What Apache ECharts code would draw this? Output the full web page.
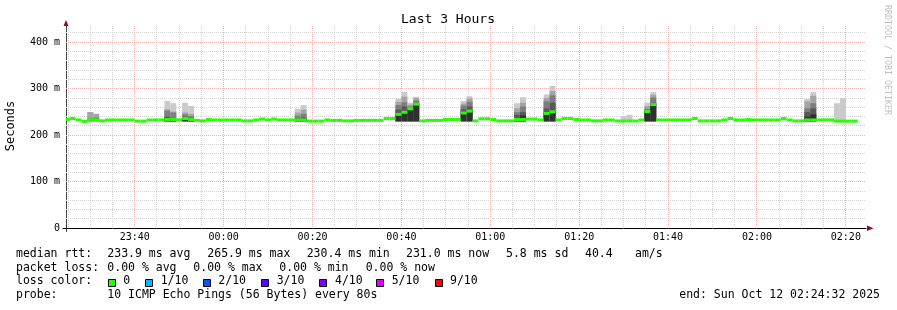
<!DOCTYPE html>
<html><head><meta charset="utf-8">
<script src="https://cdn.jsdelivr.net/npm/echarts@6/dist/echarts.min.js"></script>
<style>html,body{margin:0;padding:0;background:#fff}#c{width:897px;height:310px}</style>
</head><body><div id="c"></div>
<script>
// ---------- data ----------
const titleText = 'Last 3 Hours';
const yAxisName = 'Seconds';
const xTickLabels = ['23:40','00:00','00:20','00:40','01:00','01:20','01:40','02:00','02:20'];
const yTickValues = [0, 100, 200, 300, 400];           // ms
const rangeStart = '23:24:32';
const rangeEnd = '02:24:32';
const firstSampleEnd = '23:25:20';
const stepSec = 80;
// median rtt per 80 s sample (ms)
const median = [
  234,236,233,230,233,233,231,233,233,233,
  233,233,230.5,230.5,233,233,233,234,234,233,
  236,234,232,231,234,233,233,233,233,233,
  231,231,233,235,233,235,233,233,233,233,
  233,230.5,230.5,230.5,233,232,232,231,231,232,
  232,232,232,232,236,236,245,249.5,257,267,
  231,232,232,232,234,234,234,248,252,231,
  235.5,235.5,234,231,231,231,234,234,235,235,
  233,247,250.5,233,236,236,234,233,233,231,
  231,233,233,230.8,230.8,230.8,230.8,233,251,266,
  233,233,233,233,233,233,236,231,231,231,
  231,233,236,233,233,234,233,233,233,233,
  233,236,233,231,231,233,233,233,233,233,
  230.5,230.5,230.5,230.5
];
// samples with visible smoke (sample index) and their ping levels (ms)
const smokeIdx = [4,5,17,18,19,20,21,39,40,56,57,58,59,67,68,76,77,81,82,94,95,98,99,125,126,128,129,130,131];
const smokeLow = 230;
const smokeP10 = [250,246,274,269,237,270,263,257,265,279,293,270,283,274,284,269,282,288,306,241,244,270,293,278,293,236,236,269,280];
const smokeP9  = [250,246,256,251,230,249,246,249,255,272,283,266,280,268,279,258,270,280,295,230,230,263,287,273,285,230,230,230,230];
const smokeP8  = [236,238,253,249,230,245,241,242,246,265,271,262,275,264,272,250,262,273,286,230,230,257,281,258,269,230,230,230,230];
const smokeP7  = [230,230,240,237,230,240,238,236,238,255,262,259,270,256,262,244,250,258,270,230,230,254,270,250,258,230,230,230,230];
const smokeP6  = [230,230,236,235,230,236,235,234,235,247,252,258,268,249,253,236,243,248,251,230,230,252,268,240,245,230,230,230,230];
const rttStats = ['233.9 ms avg','265.9 ms max','230.4 ms min','231.0 ms now','5.8 ms sd','40.4','am/s'];
const lossStats = ['0.00 % avg','0.00 % max','0.00 % min','0.00 % now'];
const lossLabels = ['0','1/10','2/10','3/10','4/10','5/10','9/10'];
const lossColors = ['#26ff00','#00b8ff','#0059ff','#5e00ff','#7e00ff','#dd00ff','#ff0000'];
const probeText = '10 ICMP Echo Pings (56 Bytes) every 80s';
const endText = 'end: Sun Oct 12 02:24:32 2025';

// ---------- helpers ----------
// seconds since 23:00 of the first day
function toSec(s) {
  const p = s.split(':').map(Number);
  const h = p[0] >= 23 ? p[0] - 23 : p[0] + 1;
  return h * 3600 + p[1] * 60 + (p[2] || 0);
}
const t0 = toSec(rangeStart), t1 = toSec(rangeEnd);
const sampleEnd0 = toSec(firstSampleEnd);
const majorSecs = xTickLabels.map(toSec);
const minorSecs = [];
for (let t = Math.ceil(t0 / 300) * 300; t <= t1; t += 300) if (majorSecs.indexOf(t) < 0) minorSecs.push(t);
const yMinor = [];
for (let v = 20; v < 435; v += 20) if (yTickValues.indexOf(v) < 0) yMinor.push(v);

const medianData = median.map((v, j) => [Math.max(t0, sampleEnd0 + (j - 1) * stepSec), sampleEnd0 + j * stepSec, v]);
const smokeData = smokeIdx.map((j, k) => [sampleEnd0 + (j - 1) * stepSec, sampleEnd0 + j * stepSec, smokeLow,
  smokeP10[k], smokeP9[k], smokeP8[k], smokeP7[k], smokeP6[k]]);
const xGridData = majorSecs.map(t => [t, 0, 1]).concat(minorSecs.map(t => [t, 0, 0]));
const yGridData = yTickValues.filter(v => v > 0).map(v => [t0, v, 1]).concat(yMinor.map(v => [t0, v, 0]));

// ---------- styles ----------
const MONO = '"DejaVu Sans Mono", monospace';
const MAJOR = '#f3b0b0', MINOR = '#d2d2d2';
const bandColors = ['#cacaca', '#a4a4a4', '#7e7e7e', '#585858', '#303030'];

const chart = echarts.init(document.getElementById('c'), null, {renderer: 'canvas'});

const graphics = [];
function txt(text, x, y, opts) {
  graphics.push(Object.assign({type: 'text', x: x, y: y, silent: true,
    style: Object.assign({text: text, font: '11.5px ' + MONO, fill: '#000', verticalAlign: 'middle', align: 'left'}, (opts && opts.style) || {})},
    opts && opts.rotation !== undefined ? {rotation: opts.rotation} : {}));
}
txt(titleText, 448, 19.5, {style: {font: '13px ' + MONO, align: 'center'}});
txt(yAxisName, 11, 126, {rotation: Math.PI / 2, style: {font: '12px ' + MONO, align: 'center'}});
txt('RRDTOOL / TOBI OETIKER', 887, 60, {rotation: -Math.PI / 2, style: {font: '8.3px ' + MONO, align: 'center', fill: '#c0c0c0'}});
// legend lines
const L1 = 254.5, L2 = 268, L3 = 281.5, L4 = 295.5;
txt('median rtt:', 16, L1);
[107.3, 207.3, 306.7, 406, 506, 585, 635].forEach((x, i) => txt(rttStats[i], x, L1));
txt('packet loss:', 16, L2);
[107.3, 193.3, 279.3, 365.7].forEach((x, i) => txt(lossStats[i], x, L2));
txt('loss color:', 16, L3);
const boxX = [108.5, 145.5, 203.5, 261.5, 319.5, 376.5, 435.5];
const lblX = [123.3, 160.7, 218.3, 276.7, 335, 391.7, 450];
lossLabels.forEach((l, i) => {
  graphics.push({type: 'rect', silent: true, shape: {x: boxX[i], y: 279.5, width: 7, height: 7},
    style: {fill: lossColors[i], stroke: '#000', lineWidth: 1}});
  txt(l, lblX[i], L3);
});
txt('probe:', 16, L4);
txt(probeText, 107.3, L4);
txt(endText, 880, L4, {style: {align: 'right'}});
// axis arrows and overhangs
graphics.push({type: 'polygon', silent: true, shape: {points: [[63.5, 26], [68.5, 26], [66, 20]]}, style: {fill: '#8b1010'}});
graphics.push({type: 'polygon', silent: true, shape: {points: [[867, 225.5], [867, 231], [873.5, 228.3]]}, style: {fill: '#8b1010'}});
graphics.push({type: 'line', silent: true, shape: {x1: 66.5, y1: 228, x2: 66.5, y2: 232}, style: {stroke: '#444', lineWidth: 1}});
graphics.push({type: 'line', silent: true, shape: {x1: 62.5, y1: 228.5, x2: 66, y2: 228.5}, style: {stroke: '#000', lineWidth: 1}});

chart.setOption({
  animation: false,
  backgroundColor: '#ffffff',
  grid: {left: 66, right: 31, top: 26, bottom: 81.7, containLabel: false},
  xAxis: {
    type: 'value', min: t0, max: t1,
    axisLine: {show: true, onZero: false, lineStyle: {color: '#000', width: 1}},
    axisTick: {show: false},
    splitLine: {show: false},
    axisLabel: {
      customValues: majorSecs, margin: 4,
      formatter: v => { const i = majorSecs.indexOf(v); return i >= 0 ? xTickLabels[i] : ''; },
      fontFamily: 'DejaVu Sans Mono', fontSize: 10, color: '#000'
    }
  },
  yAxis: {
    type: 'value', min: 0, max: 435, interval: 100,
    axisLine: {show: true, lineStyle: {color: '#444', width: 1}},
    axisTick: {show: false},
    splitLine: {show: false},
    axisLabel: {
      margin: 6,
      formatter: v => (v % 100 === 0 ? (v === 0 ? '0' : v + ' m') : ''),
      fontFamily: 'DejaVu Sans Mono', fontSize: 10, color: '#000'
    }
  },
  graphic: graphics,
  series: [
    {
      type: 'custom', name: 'xgrid', z: 1, silent: true, data: xGridData, encode: {x: 0, y: 1},
      renderItem: (params, api) => {
        const cs = params.coordSys;
        const p = api.coord([api.value(0), 0]);
        const x = Math.floor(p[0]) + 0.5;
        return {type: 'line', shape: {x1: x, y1: cs.y, x2: x, y2: cs.y + cs.height},
          style: {stroke: api.value(2) ? MAJOR : MINOR, lineWidth: 1, lineDash: [1, 1]}};
      }
    },
    {
      type: 'custom', name: 'ygrid', z: 1, silent: true, data: yGridData, encode: {x: 0, y: 1},
      renderItem: (params, api) => {
        const cs = params.coordSys;
        const p = api.coord([api.value(0), api.value(1)]);
        const y = Math.floor(p[1]) + 0.5;
        return {type: 'line', shape: {x1: cs.x, y1: y, x2: cs.x + cs.width, y2: y},
          style: {stroke: api.value(2) ? MAJOR : MINOR, lineWidth: 1, lineDash: [1, 1]}};
      }
    },
    {
      type: 'custom', name: 'smoke', z: 2, silent: true, data: smokeData, encode: {x: [0, 1], y: [2, 3, 4, 5, 6, 7]},
      renderItem: (params, api) => {
        const s = api.value(0), e = api.value(1), lo = api.value(2);
        const children = [];
        for (let k = 0; k < 5; k++) {
          const top = api.value(3 + k);
          if (top <= lo) continue;
          const a = api.coord([s, top]), b = api.coord([e, lo]);
          children.push({type: 'rect', shape: {x: a[0], y: a[1], width: b[0] - a[0], height: b[1] - a[1]},
            style: {fill: bandColors[k]}});
        }
        return {type: 'group', children: children};
      }
    },
    {
      type: 'custom', name: 'median', z: 3, silent: true, data: medianData, encode: {x: [0, 1], y: 2},
      renderItem: (params, api) => {
        const a = api.coord([api.value(0), api.value(2)]);
        const b = api.coord([api.value(1), api.value(2)]);
        return {type: 'rect', shape: {x: a[0], y: a[1] - 1.5, width: b[0] - a[0], height: 3},
          style: {fill: lossColors[0]}};
      }
    }
  ]
});
</script></body></html>
